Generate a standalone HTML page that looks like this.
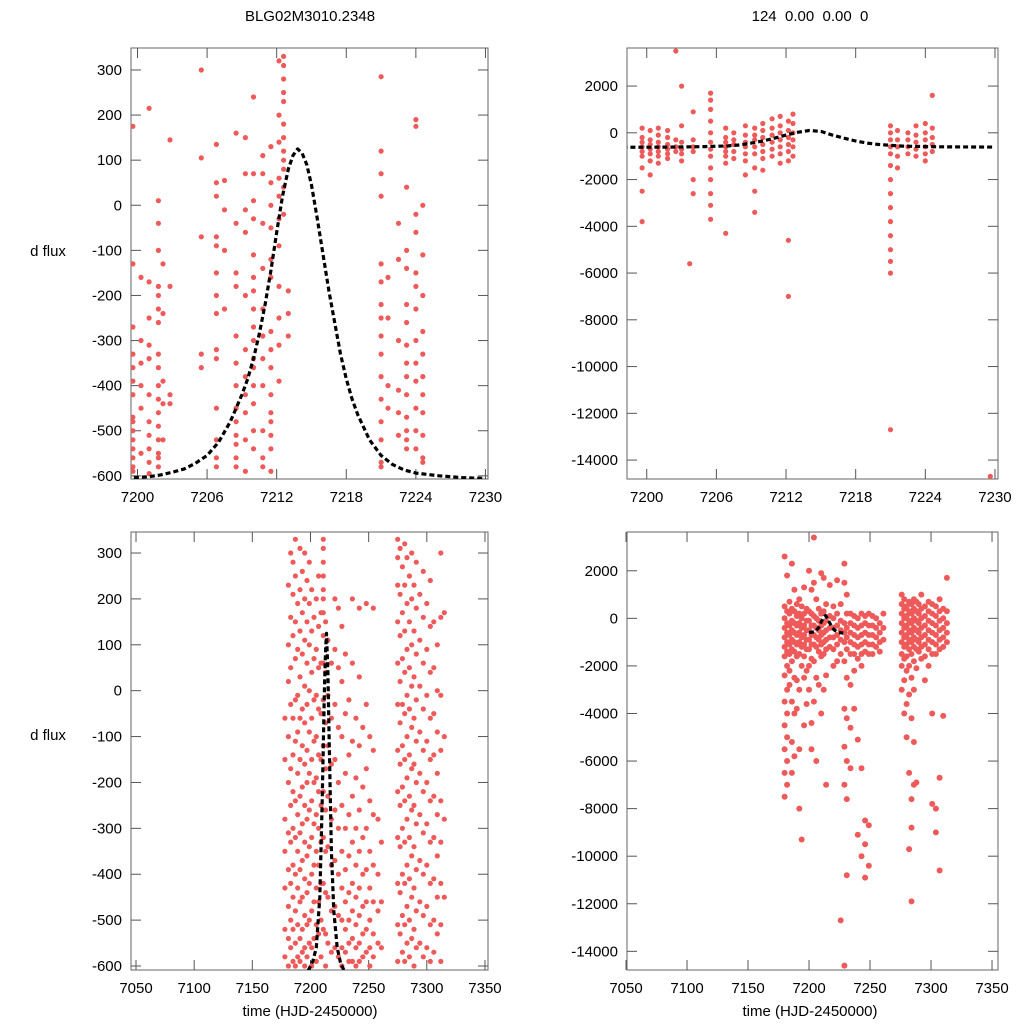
<!DOCTYPE html>
<html><head><meta charset="utf-8">
<style>
html,body{margin:0;padding:0;background:#fff;}
svg{display:block;font-family:"Liberation Sans",sans-serif;}
</style></head>
<body>
<svg id="chart" width="1024" height="1024" viewBox="0 0 1024 1024" xmlns="http://www.w3.org/2000/svg">
<text x="310" y="21" font-size="15" text-anchor="middle">BLG02M3010.2348</text>
<text x="810" y="21" font-size="15" text-anchor="middle" xml:space="preserve">124  0.00  0.00  0</text>
<text x="48" y="256" font-size="15" text-anchor="middle">d flux</text>
<text x="48" y="740" font-size="15" text-anchor="middle">d flux</text>
<text x="310" y="1016" font-size="15" text-anchor="middle">time (HJD-2450000)</text>
<text x="810" y="1016" font-size="15" text-anchor="middle">time (HJD-2450000)</text>
</svg>
<script>
// ---- data ----
const tlTimes = [7199.6,7200.3,7201,7201.8,7202.2,7202.8,7205.5,7206.8,7207.5,7208.5,7209.3,7210,7210.8,7211.5,7212.2,7212.6,7213,7221,7221.6,7222.5,7223.2,7224,7224.6];
const tlFlux = [
[175,-130,-270,-330,-360,-390,-420,-470,-480,-500,-520,-540,-560,-580,-590],
[-160,-300,-350,-400,-450,-550],
[215,-170,-250,-310,-340,-420,-480,-510,-540,-570,-595],
[10,-40,-100,-180,-200,-230,-260,-330,-360,-400,-430,-460,-490,-520,-550,-560,-580],
[-130,-240,-390,-440,-520],
[145,-180,-420,-440],
[300,105,-70,-330,-360],
[135,50,20,-70,-90,-150,-200,-240,-320,-340,-450,-520,-560,-580],
[55,-10,-100,-230],
[160,-40,-150,-180,-290,-350,-400,-450,-480,-510,-530,-560,-580],
[150,70,-10,-60,-200,-320,-380,-420,-460,-520,-590],
[240,70,10,-30,-110,-160,-190,-230,-270,-300,-340,-360,-400,-440,-500,-540],
[110,70,-40,-140,-230,-290,-340,-400,-500,-560,-580],
[130,50,0,-50,-120,-160,-280,-320,-360,-420,-460,-480,-510,-540,-590],
[320,200,140,60,20,-30,-90,-180,-250,-310,-390],
[330,310,280,250,230,180,150,120,100,80,40,-20],
[-190,-240,-290],
[285,120,70,20,-130,-170,-220,-250,-290,-330,-380,-430,-480,-520,-570,-580],
[-160,-250,-400,-450],
[-40,-120,-300,-410,-460,-510],
[40,-100,-140,-220,-260,-310,-350,-380,-420,-470,-500,-520,-540],
[190,175,-20,-60,-150,-180,-230,-300,-350,-390,-450,-500,-540],
[0,-110,-200,-280,-330,-380,-420,-460,-510,-560,-570]
];
const tlModelT = [7199,7201,7202,7203,7204,7205,7206,7207,7208,7208.5,7209,7209.5,7210,7210.5,7211,7211.5,7212,7212.5,7213,7213.4,7213.8,7214.2,7214.6,7215,7215.5,7216,7216.5,7217,7217.5,7218,7218.5,7219,7220,7221,7222,7223,7224,7226,7228,7230];
const tlModelF = [-605,-602,-598,-592,-585,-572,-555,-525,-480,-450,-420,-385,-340,-285,-220,-145,-60,20,80,110,125,115,90,45,-30,-110,-190,-260,-330,-385,-430,-465,-520,-555,-575,-587,-594,-600,-604,-606];

const trTimes = [7199.6,7200.3,7201,7201.8,7202.5,7203,7204,7205.5,7206.8,7203.7,7207.5,7208.5,7209.3,7210,7210.8,7211.5,7212.2,7212.6,7221,7221.6,7222.5,7223.2,7224,7224.6,7229.6];
const trFlux = [
[200,-200,-400,-600,-800,-1000,-1500,-2500,-3800],
[100,-300,-500,-700,-900,-1200,-1800],
[200,-100,-400,-600,-800,-1000,-1300],
[100,-200,-500,-700,-900,-1100],
[3500,-300,-600,-800],
[2000,300,-400,-700,-900,-1200],
[900,-300,-600,-800,-2000,-2600],
[1700,1400,1000,500,0,-400,-700,-1000,-1500,-2000,-2600,-3100,-3700],
[200,-200,-400,-600,-800,-1000,-1300,-4300],
[-5600],
[0,-300,-500,-800,-1100],
[300,-100,-400,-600,-900,-1200,-1800],
[200,-100,-300,-600,-900,-1500,-2500,-3400],
[400,100,-200,-500,-800,-1100,-1600],
[600,200,-100,-400,-700,-1000],
[700,300,0,-300,-600,-900,-1300],
[500,100,-200,-500,-800,-1200,-4600,-7000],
[800,400,0,-300,-600,-1000],
[300,0,-300,-600,-900,-1400,-2000,-2600,-3200,-3800,-4400,-5000,-5500,-6000,-12700],
[100,-300,-600,-1000,-1500],
[0,-300,-600,-900],
[300,-100,-400,-700,-1000],
[400,0,-300,-600,-900,-1200],
[1600,200,-200,-500,-800],
[-14700]
];
const trModelT = [7197.9,7202,7205,7207,7208,7209,7210,7211,7212,7213,7214,7215,7216,7217,7218,7219,7220,7222,7225,7230];
const trModelF = [-620,-610,-590,-560,-520,-440,-350,-230,-100,20,100,60,-100,-230,-350,-440,-500,-570,-600,-610];

const blTimes = [7178,7181,7183,7185,7187,7189,7191,7193,7195,7197,7199,7201,7203,7205,7207,7209,7211,7213,7215,7218,7221,7224,7227,7230,7233,7236,7239,7242,7245,7248,7251,7254,7258,7261,7275,7277,7279,7281,7283,7285,7287,7289,7291,7294,7297,7300,7303,7306,7309,7312,7315];
const blFlux = [
[-60,-150,-280,-350,-430,-520,-580],
[230,100,20,-100,-200,-310,-390,-470,-540,-600],
[300,160,50,-30,-170,-250,-330,-420,-500,-560],
[280,210,120,-60,-140,-220,-300,-380,-450,-520,-590],
[330,250,150,70,-20,-110,-240,-320,-400,-480,-550,-600],
[190,90,-10,-90,-180,-270,-350,-430,-510,-580],
[310,220,130,30,-60,-150,-230,-310,-390,-460,-540,-590],
[260,170,80,-40,-120,-210,-290,-370,-450,-520,-570],
[300,200,110,10,-70,-160,-250,-330,-410,-490,-560,-600],
[240,150,60,-30,-130,-200,-280,-360,-440,-510,-580],
[280,190,100,0,-90,-180,-260,-340,-420,-500,-550],
[220,130,40,-60,-150,-240,-320,-400,-480,-560,-600],
[160,70,-20,-110,-200,-290,-380,-460,-540],
[200,90,-10,-100,-190,-270,-350,-430,-510,-590],
[250,140,50,-40,-140,-220,-300,-380,-460,-530],
[170,60,-50,-150,-250,-330,-420,-500,-580],
[330,310,280,250,220,200,170,120,60,-20,-120,-220,-320,-420,-520],
[150,40,-70,-170,-260,-350,-440,-530,-600],
[110,-10,-120,-230,-340,-450,-550],
[60,-60,-160,-280,-380,-480,-570],
[200,90,-30,-150,-260,-370,-470,-560],
[180,50,-80,-200,-300,-400,-490,-580],
[140,20,-100,-250,-350,-430,-500,-560,-600],
[80,-50,-180,-300,-390,-460,-520,-570],
[-20,-140,-270,-360,-440,-500,-550,-590],
[200,60,-110,-230,-330,-420,-480,-540,-590],
[-60,-190,-300,-380,-450,-510,-560,-600],
[180,30,-120,-260,-350,-430,-490,-550,-590],
[-80,-210,-320,-400,-470,-530,-580],
[190,-30,-170,-300,-390,-460,-520,-570],
[-100,-240,-350,-430,-500,-560,-600],
[180,-130,-270,-380,-460,-530,-580],
[-280,-400,-480,-550],
[-330,-460,-560],
[330,290,230,150,60,-30,-130,-220,-320,-420,-510,-590],
[310,210,120,20,-70,-160,-250,-340,-440,-530],
[270,170,70,-30,-120,-210,-300,-400,-490,-570],
[320,230,130,40,-50,-150,-240,-330,-420,-510,-590],
[290,190,90,-10,-100,-190,-280,-380,-470,-550],
[250,150,50,-40,-140,-230,-320,-410,-500,-580],
[300,200,100,10,-80,-170,-260,-360,-450,-540],
[230,130,30,-60,-160,-250,-340,-430,-520,-600],
[280,180,80,-20,-110,-200,-290,-390,-480,-560],
[210,110,10,-90,-180,-270,-370,-460,-550],
[260,160,60,-40,-130,-220,-310,-400,-490,-580],
[190,90,-10,-110,-200,-290,-380,-470,-560],
[240,140,40,-60,-150,-240,-330,-420,-510,-590],
[150,50,-50,-140,-230,-320,-410,-500,-570],
[100,0,-90,-180,-270,-360,-450,-530],
[300,160,-10,-130,-240,-330,-420,-510,-590],
[170,-100,-280,-450]
];
const blModelT = [7198,7202,7205,7208,7210,7212,7213,7213.8,7215,7216,7218,7220,7223,7226,7229];
const blModelF = [-610,-590,-560,-450,-250,0,90,125,40,-100,-350,-480,-560,-595,-610];

const brTimes = [7180,7182,7184,7186,7188,7190,7192,7194,7196,7198,7200,7202,7204,7206,7208,7210,7212,7214,7217,7220,7223,7226,7229,7231,7234,7237,7240,7243,7246,7249,7252,7255,7258,7261,7276,7278,7280,7282,7284,7286,7288,7290,7292,7295,7298,7301,7304,7307,7310,7313];
const brFlux = [
[2600,500,0,-400,-800,-1200,-1600,-2400,-3500,-4500,-5500,-6500,-7500],
[1800,300,-200,-600,-1000,-1400,-2000,-3000,-4000,-5000,-6000,-7000],
[700,200,-300,-700,-1100,-1500,-2200,-2800],
[2300,400,-100,-500,-900,-1300,-1800,-3500,-5200,-6500],
[1200,300,-200,-600,-1000,-1400,-2500,-4000,-5800],
[600,100,-300,-700,-1100,-1600,-2600,-3800],
[800,200,-200,-600,-1000,-1500,-3000,-5500,-8000],
[500,0,-400,-800,-1200,-2000,-9300],
[1300,200,-300,-700,-1100,-1600,-2500,-4500],
[400,-100,-500,-900,-1300,-2200,-3600],
[2000,300,-100,-500,-900,-1300,-2000,-3000],
[1200,200,-300,-700,-1100,-1700,-4400,-5500],
[3400,1500,100,-300,-700,-1100,-1800,-3500],
[800,0,-400,-800,-1200,-2500,-6000],
[400,-100,-500,-900,-1400,-2800],
[1900,200,-300,-700,-1100,-1600,-4000],
[1700,300,-200,-600,-1000,-1500,-3000],
[600,-100,-500,-900,-1300,-2400,-7000],
[1400,100,-400,-800,-1200],
[500,0,-400,-800,-1300,-2000],
[1600,200,-300,-700,-1100,-1800],
[600,-100,-500,-900,-1500,-12700],
[2300,1500,-200,-600,-1000,-1800,-3800,-5400,-7000,-14600],
[1000,200,-400,-800,-1300,-2500,-4200,-6000,-7600,-10800],
[200,-200,-600,-1000,-1500,-2800,-4600,-6300],
[100,-300,-700,-1100,-1500,-2200,-3800],
[0,-400,-800,-1200,-1700,-5100,-9100],
[200,-300,-700,-1100,-1500,-2000,-6300,-10000],
[100,-200,-600,-1000,-1400,-8500,-9500,-10900],
[200,-300,-700,-1100,-1500,-8700,-10400],
[100,-300,-700,-1100,-1500],
[0,-400,-800,-1200],
[-200,-600,-1000,-1400],
[200,-400,-900],
[1000,600,200,-200,-600,-1000,-1500,-2000,-3000],
[800,400,0,-400,-800,-1200,-1700,-2600,-4000],
[500,100,-300,-700,-1100,-1600,-2200,-3600,-5000],
[700,300,-100,-500,-900,-1300,-2000,-3200,-6500,-9700],
[600,200,-200,-600,-1000,-1500,-2500,-4200,-7600,-8800,-11900],
[800,400,0,-400,-800,-1200,-1800,-3000,-5200,-7000],
[700,300,-100,-500,-900,-1300,-2100,-6900],
[600,200,-200,-600,-1000,-1400],
[1000,400,0,-400,-800,-1200,-1700],
[500,100,-300,-700,-1100,-1600,-2600],
[700,300,-100,-500,-900,-1300,-2000],
[600,200,-200,-600,-1000,-1500,-4000,-7800],
[500,100,-300,-700,-1100,-1500,-8000,-9000],
[800,300,-100,-500,-900,-1300,-6700,-10600],
[400,0,-400,-800,-1200,-4100],
[1700,300,-200,-600,-1000]
];
const brModelT = [7200,7205,7208,7210,7212,7213.5,7215,7217,7219,7221,7224,7228];
const brModelF = [-600,-560,-380,-150,50,120,0,-200,-380,-500,-590,-620];

const ticksSmallY = [300,200,100,0,-100,-200,-300,-400,-500,-600];
const ticksBigY = [2000,0,-2000,-4000,-6000,-8000,-10000,-12000,-14000];
const ticksZoomX = [7200,7206,7212,7218,7224,7230];
const ticksWideX = [7050,7100,7150,7200,7250,7300,7350];

// ---- drawing ----
const NS = 'http://www.w3.org/2000/svg';
const svg = document.getElementById('chart');
function mk(tag, attrs, parent){ const e=document.createElementNS(NS,tag); for(const k in attrs) e.setAttribute(k,attrs[k]); (parent||svg).appendChild(e); return e; }

function panel(name, box, xd, yd, xt, yt, times, flux, mt, mf, rad){
  const g = mk('g',{});
  
  
  const sx = t => box[0] + (t - xd[0]) / (xd[1] - xd[0]) * (box[2] - box[0]);
  const sy = f => box[3] - (f - yd[0]) / (yd[1] - yd[0]) * (box[3] - box[1]);
  const frame = mk('rect',{x:box[0],y:box[1],width:box[2]-box[0],height:box[3]-box[1],fill:'none',stroke:'#666','stroke-width':1},g);
  
  
  xt.forEach(t=>{
    const x=sx(t);
    mk('line',{x1:x,y1:box[3],x2:x,y2:box[3]-10,stroke:'#555'},g);
    mk('line',{x1:x,y1:box[1],x2:x,y2:box[1]+10,stroke:'#555'},g);
    const lb=mk('text',{x:x,y:box[3]+23,'font-size':15,'text-anchor':'middle'},g);
    lb.textContent=t;
    
    
  });
  yt.forEach(v=>{
    const y=sy(v);
    mk('line',{x1:box[0],y1:y,x2:box[0]+10,y2:y,stroke:'#555'},g);
    mk('line',{x1:box[2],y1:y,x2:box[2]-10,y2:y,stroke:'#555'},g);
    const lb=mk('text',{x:box[0]-9,y:y+5,'font-size':15,'text-anchor':'end'},g);
    lb.textContent=v;
    
    
  });
  const clip = 'clip-'+name;
  const cp = mk('clipPath',{id:clip},g);
  mk('rect',{x:box[0],y:box[1],width:box[2]-box[0],height:box[3]-box[1]},cp);
  const pts = mk('g',{'clip-path':'url(#'+clip+')',fill:'#ee5a5a'},g);
  
  
  times.forEach((t,i)=>{
    flux[i].forEach(f=>{
      const c=mk('circle',{cx:sx(t).toFixed(1),cy:sy(f).toFixed(1),r:rad},pts);
      
      
    });
  });
  const d = mt.map((t,i)=>(i?'L':'M')+sx(t).toFixed(1)+' '+sy(mf[i]).toFixed(1)).join(' ');
  const p = mk('path',{d:d,fill:'none',stroke:'#000','stroke-width':3.2,'stroke-dasharray':'5,3','stroke-linejoin':'round','clip-path':'url(#'+clip+')'},g);
  
  
}

panel('panel-top-left',[131,48,488,479],[7199.44,7230.22],[-607,348.7],ticksZoomX,ticksSmallY,tlTimes,tlFlux,tlModelT,tlModelF,2.6);
panel('panel-top-right',[627,48,998,479],[7198.3,7230.26],[-14810,3628],ticksZoomX,ticksBigY,trTimes,trFlux,trModelT,trModelF,2.6);
panel('panel-bottom-left',[131,532,488,970],[7045.7,7352.6],[-608.7,345.8],ticksWideX,ticksSmallY,blTimes,blFlux,blModelT,blModelF,2.6);
panel('panel-bottom-right',[627,532,998,970],[7050.8,7354.9],[-14785,3630],ticksWideX,ticksBigY,brTimes,brFlux,brModelT,brModelF,3);
</script>
</body></html>
